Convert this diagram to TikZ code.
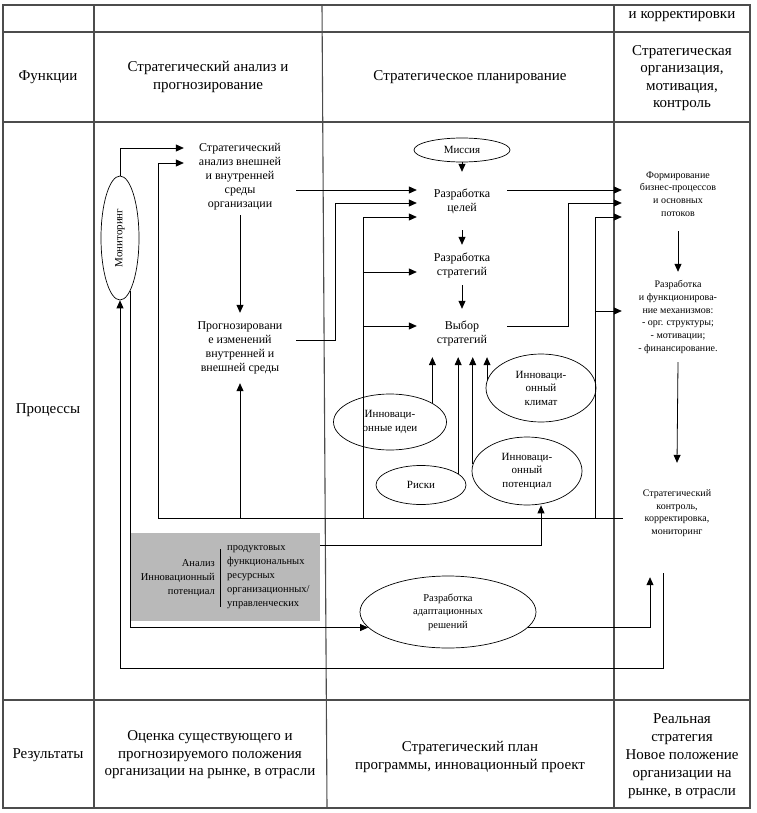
\documentclass[tikz,border=0pt]{standalone}
\usepackage{fontspec}
\setmainfont{Liberation Serif}
\usepackage{graphicx}
\usetikzlibrary{arrows.meta,shapes.geometric}

\begin{document}
\begin{tikzpicture}[x=1pt,y=-1pt,
	tab/.style={line width=1.1pt,black!70},
	head/.style={font=\fontsize{15}{17.5}\selectfont,align=center},
	txt/.style={font=\fontsize{12}{14}\selectfont,align=center,inner sep=0pt},
	small/.style={font=\fontsize{10}{12.7}\selectfont,align=center,inner sep=0pt},
	oval/.style={draw,ellipse,line width=0.7pt,inner sep=0pt,align=center,font=\fontsize{11}{13.5}\selectfont},
	arr/.style={-{Triangle[length=8pt,width=7pt]},line width=0.8pt},
	ln/.style={line width=0.8pt}]
	\useasboundingbox (0,0) rectangle (756,813);
	\fill[white] (0,0) rectangle (756,813);
	
	% Tabelle
	\draw[tab] (3,5) rectangle (750,808);
	\draw[tab] (3,32) -- (750,32);
	\draw[tab] (3,122) -- (750,122);
	\draw[tab] (3,700) -- (750,700);
	\draw[tab] (94,5) -- (94,808);
	\draw[tab] (322,5) -- (327,808);
	\draw[tab] (614,5) -- (614,808);
	
	% Kopf- und Fusszeile
	\node[head] (top) at (682,17) {и корректировки};
	\node[head] (fun) at (48,77) {Функции};
	\node[head] (h1) at (208,77) {Стратегический анализ и\\прогнозирование};
	\node[head] (h2) at (470,77) {Стратегическое планирование};
	\node[head] (h3) at (682,78) {Стратегическая\\организация,\\мотивация,\\контроль};
	\node[head] (proc) at (48,410) {Процессы};
	\node[head] (res) at (48,755) {Результаты};
	\node[head] (r1) at (210,755) {Оценка существующего и\\прогнозируемого положения\\организации на рынке, в отрасли};
	\node[head] (r2) at (470,757) {Стратегический план\\программы, инновационный проект};
	\node[head,font=\fontsize{15}{18}\selectfont] (r3) at (682,756) {Реальная\\стратегия\\Новое положение\\организации на\\рынке, в отрасли};
	
	% Analyse
	\node[txt,minimum width=112,minimum height=76] (sa) at (240,177) {Стратегический\\анализ внешней\\и внутренней\\среды\\организации};
	\node[txt,minimum width=112,minimum height=70] (prog) at (240,348) {Прогнозировани\\е изменений\\внутренней и\\внешней среды};
	\node[oval,minimum width=38,minimum height=124] (mon) at (120,238) {\rotatebox{90}{Мониторинг}};
	
	% Planung
	\node[oval,minimum width=96,minimum height=24] (mis) at (462,150) {Миссия};
	\node[txt,minimum width=90,minimum height=58] (goals) at (462,201) {Разработка\\целей};
	\node[txt,minimum width=90,minimum height=40] (strat) at (462,265) {Разработка\\стратегий};
	\node[txt,minimum width=90,minimum height=48] (choice) at (462,333) {Выбор\\стратегий};
	\node[oval,minimum width=113,minimum height=56] (ideas) at (390,422) {Инноваци-\\онные идеи};
	\node[oval,minimum width=90,minimum height=39] (risks) at (421,485) {Риски};
	\node[oval,minimum width=110,minimum height=68] (pot) at (527,471) {Инноваци-\\онный\\потенциал};
	\node[oval,minimum width=110,minimum height=68] (clim) at (541,388) {Инноваци-\\онный\\климат};
	
	% Organisation, Kontrolle
	\node[small,minimum width=112,minimum height=74] (form) at (678,194) {Формирование\\бизнес-процессов\\и основных\\потоков};
	\node[small,minimum width=112,minimum height=90] (mech) at (678,317) {Разработка\\и функционирова-\\ние механизмов:\\- орг. структуры;\\- мотивации;\\- финансирование.};
	\node[small,minimum width=108,minimum height=100] (ctrl) at (677,513) {Стратегический\\контроль,\\корректировка,\\мониторинг};
	
	% grauer Kasten und Anpassung
	\node[fill=gray!55,minimum width=190,minimum height=88,inner sep=0pt] (box) at (225,577) {};
	\node[anchor=east,align=right,inner sep=0pt,font=\fontsize{10.5}{14}\selectfont] (anl) at (215,578) {Анализ\\Инновационный\\потенциал};
	\draw[ln] ([xshift=5pt,yshift=29pt]anl.east) -- ([xshift=5pt,yshift=-29pt]anl.east);
	\node[anchor=west,align=left,inner sep=0pt,font=\fontsize{10.5}{14}\selectfont] (kind) at (227,577) {продуктовых\\функциональных\\ресурсных\\организационных/\\управленческих};
	\node[oval,font=\fontsize{10.5}{13.5}\selectfont,minimum width=176,minimum height=72] (adapt) at (448,612) {Разработка\\адаптационных\\решений};
	
	\coordinate (fb) at (158,518);
	\coordinate (cx) at (363,518);
	\coordinate (rx) at (595,518);
	
	% Pfeile links
	\draw[arr] (mon.north) |- ([yshift=29pt]sa.west);
	\draw[arr] ([yshift=-5pt]ctrl.west) -- (fb) |- ([yshift=14pt]sa.west);
	\draw[arr] (sa.south) -- (prog.south |- prog.north);
	\draw[arr] (prog.south |- fb) -- (prog.south);
	\draw[arr] ([yshift=-13pt]sa.east) -- ([yshift=-13pt]sa.east -| goals.west);
	\draw[arr] ([yshift=8pt]prog.east) -- ++(39,0) |- ([yshift=-2pt]goals.west);
	
	% Pfeile Mitte
	\draw[arr] (mis.south) -- (goals.north);
	\draw[arr] (goals.south) -- (strat.north);
	\draw[arr] (strat.south) -- (choice.north);
	\draw[arr] (cx) |- ([yshift=-16pt]goals.west);
	\draw[arr] ([xshift=-54pt,yshift=-7pt]strat.west) -- ([yshift=-7pt]strat.west);
	\draw[arr] ([xshift=-54pt,yshift=7pt]choice.west) -- ([yshift=7pt]choice.west);
	\draw[arr] (ideas.24) -- (ideas.24 |- choice.south);
	\draw[arr] (risks.17) -- (risks.17 |- choice.south);
	\draw[arr] (pot.173) -- (pot.173 |- choice.south);
	\draw[arr] (clim.172) -- (clim.172 |- choice.south);
	\draw[arr] ([yshift=32pt]box.east) -| ([xshift=14pt]pot.south);
	
	% Pfeile rechts
	\draw[arr] ([yshift=11pt]goals.east) -- ([yshift=11pt]goals.east -| form.west);
	\draw[arr] ([yshift=7pt]choice.east) -- ++(61,0) |- ([yshift=-9pt]form.west);
	\draw[arr] (rx) |- ([yshift=-23pt]form.west);
	\draw[arr] ([xshift=-27pt,yshift=6pt]mech.west) -- ([yshift=6pt]mech.west);
	\draw[arr] (form.south) -- (mech.north);
	\draw[arr] (mech.south) -- (ctrl.north);
	
	% Rueckkopplung unten
	\draw[arr] (mon.-79) |- (adapt.191);
	\draw[arr] (adapt.-11) -| ([xshift=-27pt,yshift=-14pt]ctrl.south);
	\draw[arr] ([xshift=-14pt,yshift=-10pt]ctrl.south) -- ++(0,95) -| (mon.south);
\end{tikzpicture}
\end{document}
